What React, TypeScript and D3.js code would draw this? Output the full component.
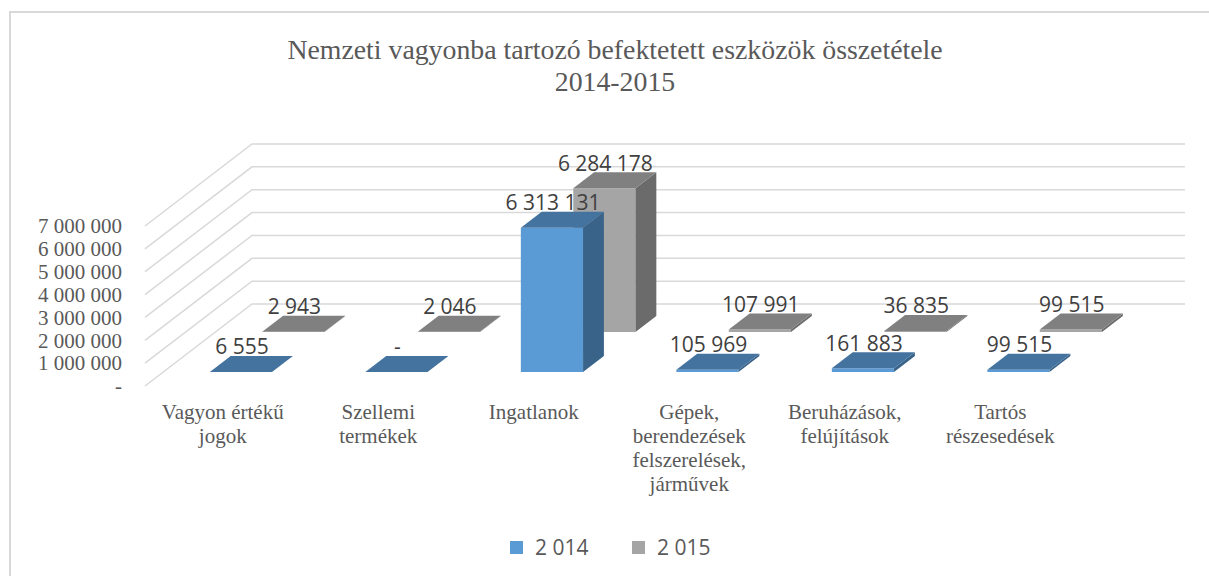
import * as d3 from 'd3';

const categories = [
  'Vagyon értékű jogok',
  'Szellemi termékek',
  'Ingatlanok',
  'Gépek, berendezések felszerelések, járművek',
  'Beruházások, felújítások',
  'Tartós részesedések',
];
const categoryLines = [
  ['Vagyon értékű', 'jogok'],
  ['Szellemi', 'termékek'],
  ['Ingatlanok'],
  ['Gépek,', 'berendezések', 'felszerelések,', 'járművek'],
  ['Beruházások,', 'felújítások'],
  ['Tartós', 'részesedések'],
];
const values2014 = [6555, 0, 6313131, 105969, 161883, 99515];
const values2015 = [2943, 2046, 6284178, 107991, 36835, 99515];
const seriesNames = ['2 014', '2 015'];
const yTicks = [0, 1000000, 2000000, 3000000, 4000000, 5000000, 6000000, 7000000];
const titleLines = ['Nemzeti vagyonba tartozó befektetett eszközök összetétele', '2014-2015'];

const W = 1209;
const H = 576;
const floorY = 386;
const DX = 107;
const DY = 82;

const locale = d3.formatLocale({ decimal: ',', thousands: ' ', grouping: [3], currency: ['', ''] });
const fmt = (v: number) => (v === 0 ? '-' : locale.format(',d')(v));

const x = d3.scaleBand<string>().domain(categories).range([145, 1078]).paddingInner(0.6).paddingOuter(0.3);
const y = d3.scaleLinear().domain([0, 7000000]).range([0, 160]);

const proj = (px: number, h: number, d: number): [number, number] => [px + d * DX, floorY - h - d * DY];
const poly = d3.line().curve(d3.curveLinearClosed);

const series = [
  { name: seriesNames[1], values: values2015, d0: 0.66, d1: 0.855, front: '#A5A5A5', top: '#808080', side: '#6B6B6B' },
  { name: seriesNames[0], values: values2014, d0: 0.17, d1: 0.365, front: '#5B9BD5', top: '#44739F', side: '#3A6389' },
];

const serif = '"Liberation Serif", "Times New Roman", serif';
const sans = '"Open Sans", "Liberation Sans", sans-serif';

export default function App() {
  const bw = x.bandwidth();
  return (
    <svg width={W} height={H} style={{ position: 'absolute', left: 0, top: 0, background: '#fff' }}>
      <path d="M10,600 V12 H1215" fill="none" stroke="#D9D9D9" strokeWidth={2} />

      {titleLines.map((t, i) => (
        <text key={t} x={615} y={59 + i * 32} textAnchor="middle" fontFamily={serif} fontSize={27.8} fill="#595959">
          {t}
        </text>
      ))}

      {yTicks.map((t) => {
        const h = y(t);
        const [fx, fy] = proj(145, h, 0);
        const [bx, by] = proj(145, h, 1);
        return (
          <g key={t}>
            <path d={`M${fx},${fy}L${bx},${by}H${1078 + DX}`} fill="none" stroke="#D9D9D9" strokeWidth={1.5} />
            <text x={122} y={fy} dy="0.35em" textAnchor="end" fontFamily={serif} fontSize={21} fill="#595959">
              {fmt(t)}
            </text>
          </g>
        );
      })}

      {series.map((s) => (
        <g key={s.name}>
          {s.values.map((v, i) => {
            const x0 = x(categories[i]) as number;
            const x1 = x0 + bw;
            const h = y(v);
            const front = [proj(x0, 0, s.d0), proj(x1, 0, s.d0), proj(x1, h, s.d0), proj(x0, h, s.d0)];
            const side = [proj(x1, 0, s.d0), proj(x1, 0, s.d1), proj(x1, h, s.d1), proj(x1, h, s.d0)];
            const top = [proj(x0, h, s.d0), proj(x1, h, s.d0), proj(x1, h, s.d1), proj(x0, h, s.d1)];
            return (
              <g key={i}>
                <path d={poly(front) as string} fill={s.front} />
                <path d={poly(side) as string} fill={s.side} />
                <path d={poly(top) as string} fill={s.top} />
              </g>
            );
          })}
        </g>
      ))}

      {series.map((s) => (
        <g key={s.name + 'l'}>
          {s.values.map((v, i) => {
            const x0 = x(categories[i]) as number;
            const [cx] = proj(x0 + bw / 2, 0, s.d0);
            const [, ty] = proj(x0, y(v), s.d1);
            return (
              <text key={i} x={cx + 1} y={ty - 9} dy="0.35em" textAnchor="middle" fontFamily={sans} fontSize={21} fill="#404040">
                {fmt(v)}
              </text>
            );
          })}
        </g>
      ))}

      {categoryLines.map((lines, i) => {
        const cx = (x(categories[i]) as number) + bw / 2;
        return (
          <text key={i} textAnchor="middle" fontFamily={serif} fontSize={21} fill="#595959">
            {lines.map((l, j) => (
              <tspan key={j} x={cx} y={419 + j * 24}>
                {l}
              </tspan>
            ))}
          </text>
        );
      })}

      {[series[1], series[0]].map((s, i) => (
        <g key={s.name + 'lg'} transform={`translate(${510 + i * 122},541)`}>
          <rect width={13} height={13} fill={s.front} />
          <text x={25} y={6.5} dy="0.35em" fontFamily={sans} fontSize={21} fill="#595959">
            {s.name}
          </text>
        </g>
      ))}
    </svg>
  );
}
